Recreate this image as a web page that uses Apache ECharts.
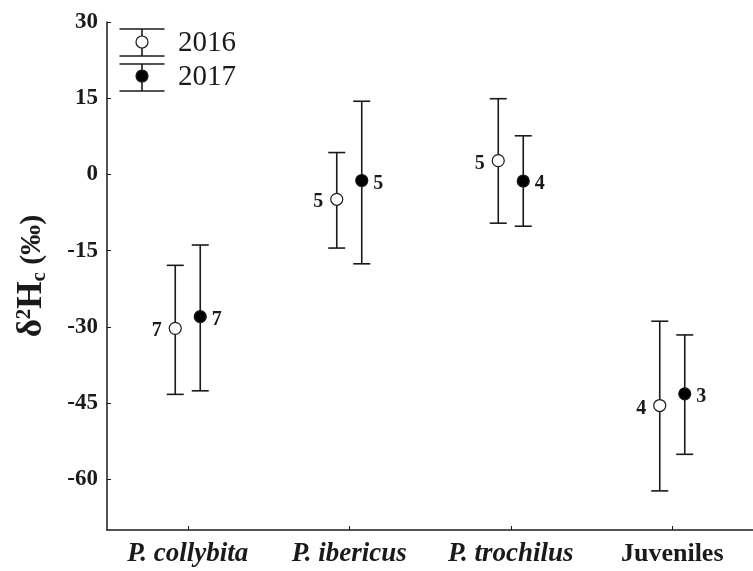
<!DOCTYPE html>
<html>
<head>
<meta charset="utf-8">
<script src="https://cdn.jsdelivr.net/npm/echarts@6/dist/echarts.min.js"></script>
<style>html,body{margin:0;padding:0;background:#fff}#c{width:753px;height:571px}</style>
</head>
<body>
<div id="c"></div>
<script>
// ---- data ----
const categories = ['P. collybita', 'P. ibericus', 'P. trochilus', 'Juveniles'];
const mean2016 = [-30.3, -4.9, 2.7, -45.5];
const low2016  = [-43.3, -14.5, -9.6, -62.3];
const high2016 = [-17.9, 4.3, 14.9, -28.9];
const n2016    = [7, 5, 5, 4];
const mean2017 = [-28.0, -1.2, -1.3, -43.2];
const low2017  = [-42.6, -17.6, -10.2, -55.1];
const high2017 = [-13.9, 14.4, 7.6, -31.6];
const n2017    = [7, 5, 4, 3];
const yTicks   = [-60, -45, -30, -15, 0, 15, 30];
const years    = ['2016', '2017'];

const SERIF = '"Liberation Serif", "Times New Roman", serif';
const INK = '#1a1a1a';

const chart = echarts.init(document.getElementById('c'), null, {renderer: 'canvas'});

function errSeries(lo, hi, dx) {
  return {
    type: 'custom',
    z: 2,
    data: lo.map((v, i) => [i, v, hi[i]]),
    renderItem: function (params, api) {
      const x = api.value(0);
      const pLo = api.coord([x, api.value(1)]);
      const pHi = api.coord([x, api.value(2)]);
      const cx = pLo[0] + dx;
      const hw = 8.5;
      const st = {stroke: INK, lineWidth: 1.6};
      return {
        type: 'group',
        children: [
          {type: 'line', shape: {x1: cx, y1: pLo[1], x2: cx, y2: pHi[1]}, style: st},
          {type: 'line', shape: {x1: cx - hw, y1: pLo[1], x2: cx + hw, y2: pLo[1]}, style: st},
          {type: 'line', shape: {x1: cx - hw, y1: pHi[1], x2: cx + hw, y2: pHi[1]}, style: st}
        ]
      };
    }
  };
}

function pointSeries(mean, n, dx, fill, labelPos, dist) {
  return {
    type: 'scatter',
    z: 5,
    symbol: 'circle',
    symbolSize: 12,
    symbolOffset: [dx, 0],
    itemStyle: {color: fill, borderColor: INK, borderWidth: 1.2, opacity: 1},
    data: mean.map((v, i) => ({value: [i, v], n: n[i]})),
    label: {
      show: true,
      position: labelPos,
      distance: dist,
      offset: [0, 3],
      formatter: p => String(p.data.n),
      fontFamily: SERIF,
      fontWeight: 'bold',
      fontSize: 20,
      color: INK
    },
    emphasis: {disabled: true}
  };
}

const legendGraphics = [];
[[29, 42, 56, '#fff'], [64, 76, 91, '#000']].forEach((g, k) => {
  const cx = 142, hw = 22.5;
  const st = {stroke: INK, lineWidth: 1.6};
  legendGraphics.push(
    {type: 'line', shape: {x1: cx, y1: g[0], x2: cx, y2: g[2]}, style: st},
    {type: 'line', shape: {x1: cx - hw, y1: g[0], x2: cx + hw, y2: g[0]}, style: st},
    {type: 'line', shape: {x1: cx - hw, y1: g[2], x2: cx + hw, y2: g[2]}, style: st},
    {type: 'circle', shape: {cx: cx, cy: g[1], r: 6}, style: {fill: g[3], stroke: INK, lineWidth: 1.2}},
    {type: 'text', x: 178, y: g[1] + 1, style: {text: years[k], fontFamily: SERIF, fontSize: 29, fill: INK, textVerticalAlign: 'middle'}}
  );
});

chart.setOption({
  animation: false,
  backgroundColor: '#fff',
  grid: {left: 107, top: 22, width: 651, bottom: 41, containLabel: false},
  xAxis: {
    type: 'category',
    data: categories,
    boundaryGap: true,
    axisLine: {show: true, onZero: false, lineStyle: {color: INK, width: 1.5}},
    axisTick: {show: true, alignWithLabel: true, inside: true, length: 4, lineStyle: {color: INK}},
    axisLabel: {
      interval: 0,
      margin: 11,
      fontFamily: SERIF,
      fontSize: 27,
      fontWeight: 'bold',
      color: INK,
      formatter: v => v === 'Juveniles' ? '{n|' + v + '}' : '{i|' + v + '}',
      rich: {
        i: {fontFamily: SERIF, fontSize: 27, fontWeight: 'bold', fontStyle: 'italic', color: INK},
        n: {fontFamily: SERIF, fontSize: 26, fontWeight: 'bold', color: INK}
      }
    },
    splitLine: {show: false}
  },
  yAxis: {
    type: 'value',
    min: -70,
    max: 30,
    axisLine: {show: true, lineStyle: {color: INK, width: 1.5}},
    axisTick: {show: true, inside: true, length: 4, customValues: yTicks, lineStyle: {color: INK}},
    axisLabel: {
      customValues: yTicks,
      margin: 9,
      fontFamily: SERIF,
      fontSize: 23,
      fontWeight: 'bold',
      color: INK
    },
    splitLine: {show: false},
    name: '{a|δ}{s|2}{a|H}{b|c}{p| (‰)}',
    nameLocation: 'middle',
    nameGap: 57,
    nameRotate: 90,
    nameTextStyle: {
      rich: {
        a: {fontFamily: SERIF, fontSize: 35, fontWeight: 'bold', color: INK, lineHeight: 36},
        s: {fontFamily: SERIF, fontSize: 21, fontWeight: 'bold', color: INK, verticalAlign: 'top', lineHeight: 20},
        b: {fontFamily: SERIF, fontSize: 21, fontWeight: 'bold', color: INK, verticalAlign: 'bottom', lineHeight: 16},
        p: {fontFamily: SERIF, fontSize: 30, fontWeight: 'bold', color: INK, lineHeight: 36}
      }
    }
  },
  graphic: legendGraphics,
  series: [
    errSeries(low2016, high2016, -12.5),
    errSeries(low2017, high2017, 12.5),
    pointSeries(mean2016, n2016, -12.5, '#ffffff', 'left', 7),
    pointSeries(mean2017, n2017, 12.5, '#000000', 'right', 5)
  ]
});
</script>
</body>
</html>
